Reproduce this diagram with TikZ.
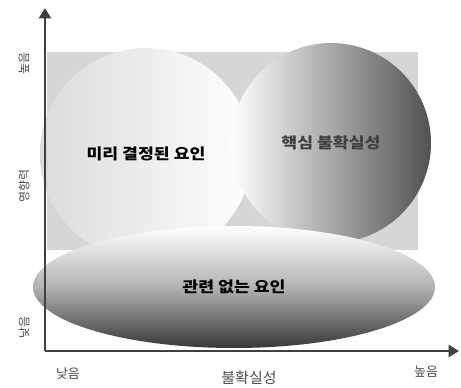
\documentclass[tikz,border=0pt]{standalone}
\usepackage{fontspec}
\setmainfont{Noto Sans CJK KR}
\usetikzlibrary{arrows.meta,shapes.geometric}

\begin{document}
\begin{tikzpicture}[x=1pt,y=-1pt,>=Triangle,every node/.style={align=center},
    axis/.style={draw=black!75,line width=2.6pt},
    blob/.style={font=\bfseries\fontsize{15}{17}\selectfont,inner sep=0pt},
    tick/.style={font=\fontsize{12}{14}\selectfont,text=black!70}]
      \useasboundingbox (0,0) rectangle (461,388);
      \fill[black!16] (47,52) rectangle (418,250);
      \node[blob,circle,minimum size=212pt,left color=black!14,right color=white] (pre) at (146,154) {\scalebox{1.15}[1]{미리 결정된 요인}};
      \node[blob,circle,minimum size=200pt,left color=white,right color=black!68,text=black!75] (core) at (331,143) {\scalebox{1.15}[1]{핵심 불확실성}};
      \node[blob,ellipse,minimum width=402pt,minimum height=122pt,top color=white,bottom color=black!78,middle color=black!30] (irr) at (234,287) {\scalebox{1.15}[1]{관련 없는 요인}};
      \coordinate (o) at (45,351);
      \coordinate (ytip) at (45,8);
      \coordinate (xtip) at (459,351);
      \draw[axis,->] (o)--(ytip);
      \draw[axis,->] (o)--(xtip);
      \node[tick,rotate=90] (yhi) at (24,63) {높음};
      \node[tick,rotate=90] (ylo) at (24,327) {낮음};
      \node[tick,rotate=90] (ylab) at (24,186) {영향력};
      \node[tick,font=\fontsize{13}{15}\selectfont] (xlo) at (68,374) {낮음};
      \node[tick,font=\fontsize{13}{15}\selectfont] (xhi) at (426,372) {높음};
      \node[tick,font=\fontsize{15}{17}\selectfont] (xlab) at (249,378) {불확실성};
    \end{tikzpicture}
\end{document}
